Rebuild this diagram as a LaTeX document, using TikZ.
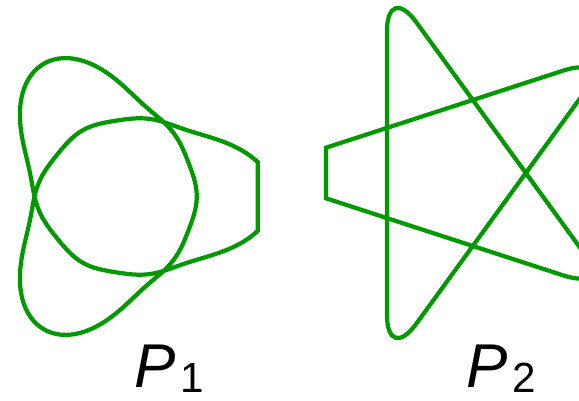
\documentclass[tikz,border=0pt]{standalone}
\usepackage{fontspec}
\setmainfont{Liberation Sans}
\definecolor{knotgreen}{RGB}{0,153,0}
\begin{document}
\begin{tikzpicture}[x=0.025cm,y=0.025cm,
        curve/.style={draw=knotgreen,line width=3pt},
        lbl/.style={anchor=base west,inner sep=0pt,font=\fontsize{44}{44}\selectfont}]
            \useasboundingbox (0,0) rectangle (579,401);
            \clip (0,0) rectangle (579,401);
            \draw[curve,domain=14:706,samples=281,smooth,variable=\t]
                plot ({120.5+(97.6+32.2*cos(1.5*\t)+14.4*cos(3*\t)+6.35*cos(4.5*\t)+2.8*cos(6*\t))*cos(\t)},
                      {204.5+(97.6+32.2*cos(1.5*\t)+14.4*cos(3*\t)+6.35*cos(4.5*\t)+2.8*cos(6*\t))*sin(\t)}) -- cycle;
            \coordinate (c1) at (326,202.7);
            \coordinate (c2) at (326,253.3);
            \coordinate (t36) at (611.6,346.1);
            \coordinate (t108) at (386.9,419.2);
            \coordinate (t252) at (386.9,36.8);
            \coordinate (t324) at (611.6,109.9);
            \draw[curve] (c1) -- (c2) [rounded corners=12.5mm] -- (t36) -- (t252) -- (t108) -- (t324) [sharp corners] -- cycle;
            \node[lbl] (p1) at (134,13) {\itshape P\upshape\hspace{1.2mm}\fontsize{30}{30}\selectfont\raisebox{-3pt}{1}};
            \node[lbl] (p2) at (466,13) {\itshape P\upshape\hspace{1.2mm}\fontsize{30}{30}\selectfont\raisebox{-3pt}{2}};
        \end{tikzpicture}
\end{document}
